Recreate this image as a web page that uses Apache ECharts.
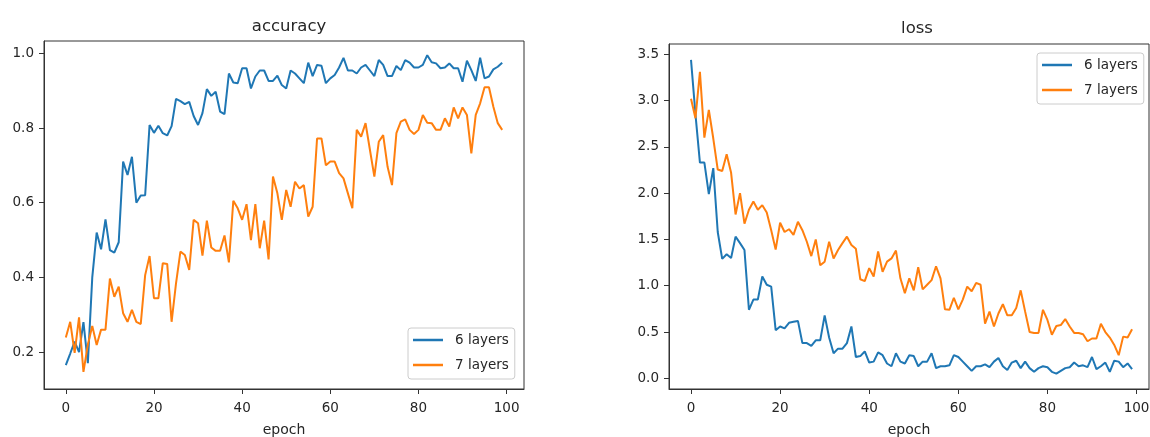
<!DOCTYPE html>
<html><head><meta charset="utf-8">
<script src="https://cdn.jsdelivr.net/npm/echarts@6/dist/echarts.min.js"></script>
<style>html,body{margin:0;padding:0;background:#fff}#c{width:1150px;height:437px}</style>
</head><body><div id="c"></div>
<script>
const epochs = Array.from({length: 100}, (_, i) => i);
const acc6 = [0.165,0.196,0.228,0.20,0.28,0.17,0.40,0.52,0.475,0.555,
  0.473,0.466,0.494,0.71,0.674,0.723,0.60,0.619,0.62,0.808,
  0.787,0.806,0.786,0.78,0.805,0.878,0.872,0.864,0.87,0.832,
  0.808,0.84,0.904,0.886,0.897,0.844,0.837,0.946,0.922,0.92,
  0.96,0.96,0.906,0.938,0.954,0.954,0.926,0.926,0.94,0.915,
  0.906,0.954,0.946,0.933,0.92,0.975,0.939,0.969,0.967,0.92,
  0.933,0.942,0.962,0.988,0.954,0.954,0.946,0.962,0.969,0.954,
  0.939,0.982,0.969,0.939,0.939,0.966,0.955,0.982,0.975,0.962,
  0.962,0.969,0.995,0.976,0.973,0.96,0.962,0.973,0.96,0.96,
  0.924,0.98,0.955,0.926,0.988,0.933,0.938,0.957,0.964,0.975];
const acc7 = [0.239,0.281,0.198,0.293,0.147,0.22,0.27,0.219,0.26,0.26,
  0.397,0.348,0.375,0.304,0.281,0.313,0.281,0.275,0.406,0.457,
  0.344,0.344,0.438,0.436,0.281,0.384,0.469,0.46,0.42,0.554,
  0.545,0.458,0.552,0.48,0.471,0.471,0.512,0.44,0.605,0.585,
  0.554,0.596,0.50,0.596,0.478,0.552,0.448,0.67,0.625,0.554,
  0.634,0.589,0.656,0.638,0.647,0.563,0.589,0.772,0.772,0.70,
  0.71,0.71,0.679,0.665,0.625,0.585,0.795,0.777,0.813,0.741,
  0.67,0.763,0.781,0.696,0.647,0.786,0.817,0.823,0.795,0.784,
  0.795,0.835,0.814,0.813,0.795,0.795,0.826,0.804,0.855,0.826,
  0.855,0.835,0.732,0.835,0.866,0.909,0.909,0.857,0.813,0.795];
const loss6 = [3.44,2.85,2.33,2.33,1.99,2.27,1.58,1.29,1.34,1.30,
  1.53,1.46,1.385,0.74,0.85,0.85,1.10,1.01,0.99,0.52,
  0.56,0.54,0.60,0.61,0.62,0.38,0.38,0.35,0.41,0.41,
  0.68,0.44,0.27,0.32,0.32,0.38,0.56,0.23,0.24,0.29,
  0.17,0.18,0.28,0.25,0.16,0.13,0.27,0.18,0.16,0.25,
  0.24,0.13,0.18,0.18,0.27,0.11,0.13,0.13,0.14,0.25,
  0.23,0.18,0.13,0.08,0.13,0.13,0.15,0.12,0.18,0.22,
  0.13,0.09,0.17,0.19,0.11,0.18,0.11,0.07,0.11,0.13,
  0.12,0.07,0.05,0.08,0.11,0.12,0.17,0.13,0.14,0.12,
  0.23,0.10,0.13,0.17,0.07,0.19,0.18,0.12,0.16,0.10];
const loss7 = [3.02,2.81,3.31,2.60,2.90,2.59,2.255,2.24,2.42,2.22,
  1.77,2.00,1.67,1.82,1.91,1.82,1.87,1.79,1.60,1.39,
  1.68,1.58,1.61,1.55,1.69,1.60,1.475,1.32,1.50,1.22,
  1.26,1.475,1.295,1.385,1.46,1.53,1.44,1.40,1.07,1.05,
  1.19,1.10,1.37,1.15,1.26,1.295,1.38,1.08,0.92,1.08,
  0.95,1.20,0.96,1.01,1.06,1.21,1.08,0.745,0.74,0.87,
  0.745,0.85,0.99,0.94,1.03,1.01,0.59,0.72,0.56,0.70,
  0.80,0.68,0.68,0.76,0.95,0.72,0.50,0.49,0.49,0.74,
  0.63,0.47,0.565,0.575,0.64,0.56,0.49,0.49,0.475,0.40,
  0.43,0.43,0.59,0.50,0.44,0.36,0.25,0.45,0.44,0.53];
const xTicks = [0, 20, 40, 60, 80, 100];
const accTicks = [0.2, 0.4, 0.6, 0.8, 1.0];
const lossTicks = [0, 0.5, 1.0, 1.5, 2.0, 2.5, 3.0, 3.5];
const seriesNames = ['6 layers', '7 layers'];
const titles = ['accuracy', 'loss'];
const xLabel = 'epoch';

const F = 'DejaVu Sans';
const TC = '#262626';
const AC = '#333';
const colors = ['#1f77b4', '#ff7f0e'];

function xAx(gi, min, max) {
  return {
    type: 'value', gridIndex: gi, min: min, max: max,
    name: xLabel, nameLocation: 'middle', nameGap: 34,
    nameTextStyle: {fontFamily: F, fontSize: 14, color: TC},
    axisLine: {show: true, onZero: false, lineStyle: {color: AC, width: 1}},
    axisTick: {show: true, length: 5, customValues: xTicks, lineStyle: {color: AC}},
    axisLabel: {customValues: xTicks, margin: 12, fontFamily: F, fontSize: 13.5, color: TC},
    splitLine: {show: false}
  };
}
function yAx(gi, min, max, ticks) {
  return {
    type: 'value', gridIndex: gi, min: min, max: max,
    axisLine: {show: true, onZero: false, lineStyle: {color: AC, width: 1}},
    axisTick: {show: true, length: 5, customValues: ticks, lineStyle: {color: AC}},
    axisLabel: {customValues: ticks, margin: 10, fontFamily: F, fontSize: 13.5, color: TC,
      formatter: v => Number(v).toFixed(1)},
    splitLine: {show: false}
  };
}
function legend(left, top) {
  return {
    data: seriesNames, orient: 'vertical', left: left, top: top,
    padding: [4, 6, 6, 5], itemGap: 9, itemWidth: 30, itemHeight: 2.5, icon: 'rect',
    backgroundColor: 'rgba(255,255,255,0.8)', borderColor: '#cccccc', borderWidth: 1, borderRadius: 3,
    textStyle: {fontFamily: F, fontSize: 13.5, color: TC, lineHeight: 16, padding: [0, 0, 0, 7]}
  };
}
function line(name, data, idx, color) {
  return {
    name: name, type: 'line', xAxisIndex: idx, yAxisIndex: idx,
    data: data.map((v, i) => [epochs[i], v]),
    showSymbol: false, symbol: 'none', lineStyle: {width: 2, color: color}, itemStyle: {color: color},
    animation: false
  };
}

const chart = echarts.init(document.getElementById('c'));
chart.setOption({
  animation: false,
  backgroundColor: '#fff',
  title: [
    {text: titles[0], left: 284, top: 13, textAlign: 'center', textStyle: {fontFamily: F, fontSize: 16.5, fontWeight: 'normal', color: TC}},
    {text: titles[1], left: 912, top: 15, textAlign: 'center', textStyle: {fontFamily: F, fontSize: 16.5, fontWeight: 'normal', color: TC}}
  ],
  grid: [
    {left: 44, right: 626, top: 41, bottom: 48, outerBoundsMode: 'none', containLabel: false, show: true, borderColor: AC, borderWidth: 1, backgroundColor: 'transparent'},
    {left: 669, right: 1, top: 44, bottom: 48, outerBoundsMode: 'none', containLabel: false, show: true, borderColor: AC, borderWidth: 1, backgroundColor: 'transparent'}
  ],
  xAxis: [xAx(0, -4.95, 103.95), xAx(1, -4.94, 102.8)],
  yAxis: [yAx(0, 0.101, 1.033, accTicks), yAx(1, -0.1156, 3.611, lossTicks)],
  legend: [legend(408, 328), legend(1037, 53)],
  series: [
    line(seriesNames[0], acc6, 0, colors[0]),
    line(seriesNames[1], acc7, 0, colors[1]),
    line(seriesNames[0], loss6, 1, colors[0]),
    line(seriesNames[1], loss7, 1, colors[1])
  ]
});
</script></body></html>
